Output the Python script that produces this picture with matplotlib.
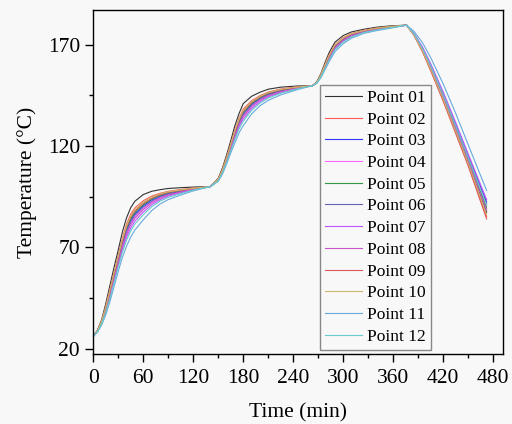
import numpy as np
import matplotlib
matplotlib.use("Agg")
import matplotlib.pyplot as plt

# time axis (min)
time = [0, 5, 10, 15, 20, 25, 30, 35, 40, 45, 50, 60, 70, 80, 90, 105, 120, 141,
        150, 155, 160, 165, 170, 175, 180, 190, 200, 210, 225, 245, 263,
        268, 273, 278, 283, 290, 300, 310, 325, 340, 358, 376,
        385, 395, 405, 420, 435, 450, 472]

# temperature readings (°C) for each measuring point
p01 = [26, 29, 34, 42, 51, 60, 68.5, 77.5, 84.5, 89.5, 92.7, 96, 97.6, 98.4, 99, 99.4, 99.7, 100,
       104, 109, 115.5, 122.5, 130, 136, 140.9, 144.5, 146.5, 148.0, 149.0, 149.6, 149.7,
       151.5, 155.5, 161, 166, 171.2, 174.5, 176.3, 177.6, 178.6, 179.3, 179.6,
       174.8, 167.3, 158.1, 143.5, 127.8, 112, 87.2]
p02 = [26, 28.8, 33.4, 40.6, 49, 57.6, 65.9, 74.4, 81.4, 86.3, 89.4, 92.9, 95.2, 96.6, 97.6, 98.5, 99.2, 100,
       103.6, 108.3, 114.4, 121, 127.9, 133.6, 138.2, 142.3, 144.8, 146.6, 148.1, 149.2, 149.7,
       151.3, 155, 160.1, 164.9, 170, 173.5, 175.5, 177.1, 178.2, 179, 179.6,
       174.6, 166.8, 157.4, 142.5, 126.6, 110.7, 85.1]
p03 = [26, 28.6, 32.9, 39.5, 47.4, 55.7, 63.8, 71.9, 78.5, 83.3, 86.5, 90.4, 93.3, 95.2, 96.5, 97.8, 98.8, 100,
       103.3, 107.7, 113.5, 119.8, 126.2, 131.7, 136, 140.6, 143.5, 145.5, 147.3, 148.8, 149.7,
       151.2, 154.6, 159.4, 164, 169.1, 172.7, 174.9, 176.7, 177.8, 178.8, 179.6,
       175.3, 168.5, 160, 146, 130.8, 115.2, 92.4]
p04 = [26, 28.5, 32.6, 39, 46.6, 54.8, 62.7, 70.6, 77, 81.8, 85, 89.1, 92.3, 94.5, 96, 97.4, 98.7, 100,
       103.2, 107.4, 113, 119.2, 125.3, 130.8, 134.9, 139.7, 142.8, 145, 146.9, 148.6, 149.7,
       151.1, 154.4, 159.1, 163.5, 168.6, 172.3, 174.6, 176.5, 177.7, 178.7, 179.6,
       175.1, 168, 159.3, 145, 129.6, 113.9, 90.3]
p05 = [26, 28.6, 33, 39.8, 47.8, 56.2, 64.3, 72.5, 79.2, 84, 87.2, 91, 93.8, 95.6, 96.8, 98, 98.9, 100,
       103.4, 107.8, 113.7, 120.1, 126.6, 132.2, 136.5, 141, 143.8, 145.8, 147.5, 148.9, 149.7,
       151.2, 154.7, 159.6, 164.2, 169.3, 172.9, 175.1, 176.8, 177.9, 178.9, 179.6,
       175, 167.8, 158.9, 144.5, 129, 113.3, 89.3]
p06 = [26, 28.5, 32.8, 39.3, 47, 55.3, 63.3, 71.3, 77.8, 82.5, 85.8, 89.8, 92.8, 94.9, 96.3, 97.6, 98.8, 100,
       103.3, 107.5, 113.3, 119.5, 125.8, 131.3, 135.5, 140.2, 143.2, 145.3, 147.1, 148.7, 149.7,
       151.2, 154.5, 159.3, 163.8, 168.9, 172.5, 174.8, 176.6, 177.8, 178.8, 179.6,
       175.2, 168.3, 159.7, 145.5, 130.2, 114.6, 91.4]
p07 = [26, 28.3, 32.3, 38.2, 45.4, 53.4, 61.2, 68.8, 74.9, 79.5, 82.9, 87.3, 90.9, 93.4, 95.2, 96.9, 98.4, 100,
       103, 106.9, 112.4, 118.3, 124.1, 129.4, 133.3, 138.4, 141.8, 144.2, 146.4, 148.4, 149.7,
       151, 154.1, 158.6, 162.9, 167.9, 171.7, 174.1, 176.2, 177.4, 178.5, 179.6,
       175.4, 168.8, 160.4, 146.5, 131.4, 115.9, 93.5]
p08 = [26, 28.4, 32.5, 38.7, 46.2, 54.3, 62.2, 70, 76.3, 81, 84.3, 88.5, 91.8, 94.1, 95.7, 97.2, 98.6, 100,
       103.1, 107.2, 112.8, 118.9, 124.9, 130.3, 134.4, 139.3, 142.5, 144.7, 146.7, 148.5, 149.7,
       151.1, 154.3, 158.9, 163.3, 168.4, 172.1, 174.4, 176.4, 177.6, 178.6, 179.6,
       174.9, 167.5, 158.5, 144, 128.4, 112.6, 88.2]
p09 = [26, 28.7, 33.1, 40.1, 48.2, 56.7, 64.8, 73.1, 79.9, 84.8, 87.9, 91.6, 94.2, 95.9, 97.1, 98.1, 99, 100,
       103.5, 108, 113.9, 120.4, 127, 132.7, 137.1, 141.5, 144.2, 146.1, 147.7, 149, 149.7,
       151.3, 154.8, 159.8, 164.4, 169.6, 173.1, 175.2, 176.9, 178, 178.9, 179.6,
       174.5, 166.5, 157, 142, 126, 110, 84]
p10 = [26, 28.7, 33.3, 40.4, 48.6, 57.2, 65.4, 73.8, 80.7, 85.5, 88.7, 92.3, 94.7, 96.3, 97.4, 98.3, 99.1, 100,
       103.6, 108.1, 114.2, 120.7, 127.5, 133.2, 137.6, 141.9, 144.5, 146.4, 147.9, 149.1, 149.7,
       151.3, 154.9, 160, 164.7, 169.8, 173.3, 175.4, 177, 178.1, 179, 179.6,
       174.7, 167, 157.8, 143, 127.2, 111.3, 86.1]
p11 = [26, 28, 31.5, 36.5, 43, 50.5, 58, 65, 70.5, 75, 78.5, 83.5, 88, 91.3, 93.5, 95.8, 97.8, 100,
       102.5, 106, 111, 116.5, 121.5, 126.5, 130, 135.8, 139.8, 142.5, 145.2, 147.8, 149.7,
       150.8, 153.5, 157.5, 161.5, 166.5, 170.5, 173.2, 175.6, 176.9, 178.2, 179.6,
       176.5, 171, 163.5, 150.5, 136, 120.5, 98]
p12 = [26, 28.2, 32, 37.6, 44.6, 52.4, 60.1, 67.5, 73.4, 78, 81.4, 86, 89.9, 92.7, 94.6, 96.5, 98.2, 100,
       102.8, 106.6, 111.9, 117.7, 123.2, 128.4, 132.2, 137.5, 141.1, 143.6, 146, 148.2, 149.7,
       150.9, 153.9, 158.2, 162.4, 167.5, 171.3, 173.8, 176, 177.2, 178.4, 179.6,
       175.2, 168.1, 159.5, 145.3, 129.9, 114.2, 90.8]

series = [p01, p02, p03, p04, p05, p06, p07, p08, p09, p10, p11, p12]
labels = ['Point 01', 'Point 02', 'Point 03', 'Point 04', 'Point 05', 'Point 06',
          'Point 07', 'Point 08', 'Point 09', 'Point 10', 'Point 11', 'Point 12']
colors = ['#333333', '#ff5555', '#3333ff', '#ff66ff', '#339944', '#6666bb',
          '#bb55ff', '#cc55cc', '#dd5555', '#c8b870', '#66aadd', '#66cccc']

plt.rcParams['font.family'] = ['Liberation Serif', 'DejaVu Serif']
bg = '#f8f8f8'

fig = plt.figure(figsize=(5.12, 4.24), dpi=100, facecolor=bg)
ax = fig.add_axes([0.182, 0.165, 0.801, 0.811], facecolor=bg)

for y, lab, c in zip(series, labels, colors):
    ax.plot(time, y, color=c, lw=0.8, label=lab)

ax.set_xlim(0, 492)
ax.set_ylim(17.3, 187)
ax.set_xticks(np.arange(0, 481, 60))
ax.set_xticks(np.arange(30, 481, 60), minor=True)
ax.set_yticks([20, 70, 120, 170])
ax.set_yticks([45, 95, 145], minor=True)
ax.tick_params(which='both', direction='out', top=False, right=False, labelsize=15.5, width=1)
ax.tick_params(which='major', length=6)
ax.tick_params(which='minor', length=3)
ax.tick_params(axis='x', pad=5)
for s in ax.spines.values():
    s.set_linewidth(1)

ax.set_xlabel('Time (min)', fontsize=15.5, labelpad=11)
ax.set_ylabel('Temperature (°C)', fontsize=15.5, labelpad=8)

leg = ax.legend(loc='lower right', bbox_to_anchor=(0.824, 0.012), borderaxespad=0,
                fontsize=12.5, handlelength=2.1, labelspacing=0.32, handletextpad=0.3,
                borderpad=0.3, fancybox=False, framealpha=1, facecolor=bg, edgecolor='#888888')
leg.get_frame().set_linewidth(1)

fig.savefig('out.png', dpi=100, facecolor=bg)
